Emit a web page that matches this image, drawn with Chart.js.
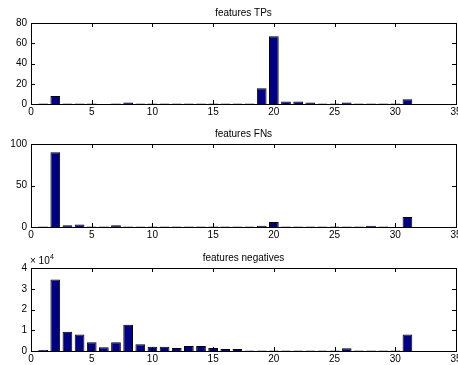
<!DOCTYPE html>
<html>
<head>
<meta charset="utf-8">
<script src="https://cdn.jsdelivr.net/npm/chart.js@4/dist/chart.umd.min.js"></script>
<style>
  html, body { margin: 0; padding: 0; background: #fff; }
  #fig { position: relative; width: 458px; height: 365px; overflow: hidden; }
  .ax { position: absolute; left: 0; width: 458px; }
</style>
</head>
<body>
<div id="fig">
  <div class="ax" style="top:0px;height:120px"><canvas id="c1"></canvas></div>
  <div class="ax" style="top:121px;height:122px"><canvas id="c2"></canvas></div>
  <div class="ax" style="top:245px;height:122px"><canvas id="c3"></canvas></div>
</div>
<script>
const features = Array.from({ length: 31 }, (_, i) => i + 1);

const tps = [0.5, 8, 0.5, 0.5, 0.5, 0, 0.5, 1.5, 0.5, 0.5, 0.5, 0.5, 0.5, 0.5, 0.5, 0.5,
    0.5, 0.5, 15.5, 67, 2.5, 2.5, 1.5, 0.5, 0.5, 1.5, 0.5, 0.5, 0.5, 0.5, 4.8];

const fns = [0.5, 90, 2, 3, 0.5, 0.5, 2, 0.5, 0.5, 0.5, 0.5, 0.5, 0.5, 0.5, 0.5, 0.5,
    0.5, 0.5, 1.5, 6, 0.5, 0.5, 0.5, 0.5, 0.5, 0.5, 0.5, 1.5, 0.5, 0, 12];

const negatives = [500, 34500, 9300, 8000, 4200, 1800, 4200, 12600, 3300, 2000, 2000, 1500,
    2400, 2400, 1500, 1000, 1000, 300, 300, 300, 300, 300, 300, 300, 300, 1300, 300, 300, 300, 300, 8000];

const xTicks = [0, 5, 10, 15, 20, 25, 30, 35];

const FONT = { family: 'Liberation Sans, Arial, sans-serif', size: 10 };

// moldura estilo matlab, ticks para dentro nos quatro lados
const framePlugin = {
    id: 'frame',
    afterDraw(chart, args, opts) {
        const { ctx, chartArea: a, scales } = chart;
        ctx.save();
        ctx.strokeStyle = '#000';
        ctx.lineWidth = 1;
        ctx.strokeRect(Math.round(a.left) + 0.5, Math.round(a.top) + 0.5,
            Math.round(a.right - a.left), Math.round(a.bottom - a.top));
        ctx.beginPath();
        scales.x.ticks.forEach((t) => {
            const px = Math.round(scales.x.getPixelForValue(t.value)) + 0.5;
            ctx.moveTo(px, a.top); ctx.lineTo(px, a.top + 4);
            ctx.moveTo(px, a.bottom); ctx.lineTo(px, a.bottom - 4);
        });
        scales.y.ticks.forEach((t) => {
            const py = Math.round(scales.y.getPixelForValue(t.value)) + 0.5;
            ctx.moveTo(a.left, py); ctx.lineTo(a.left + 4, py);
            ctx.moveTo(a.right, py); ctx.lineTo(a.right - 4, py);
        });
        ctx.stroke();

        ctx.fillStyle = '#000';
        ctx.font = '10px ' + FONT.family;
        ctx.textAlign = 'center';
        ctx.textBaseline = 'bottom';
        ctx.fillText(opts.text, (a.left + a.right) / 2, a.top - 5);
        if (opts.exponent) {
            ctx.textAlign = 'left';
            ctx.font = '10px ' + FONT.family;
            ctx.fillText('\u00d7 10', a.left - 1, a.top - 2);
            ctx.font = '7px ' + FONT.family;
            ctx.fillText(opts.exponent, a.left + 19, a.top - 7);
        }
        ctx.restore();
    },
};

function criarGrafico(id, valores, titulo, yMax, yStep, divisor, expoente) {
    return new Chart(document.getElementById(id), {
        type: 'bar',
        data: {
            datasets: [{
                data: features.map((f, i) => ({ x: f, y: valores[i] })),
                backgroundColor: '#000080',
                borderColor: '#000',
                borderWidth: 1,
                barPercentage: 0.8,
                categoryPercentage: 1,
            }],
        },
        options: {
            responsive: true,
            maintainAspectRatio: false,
            animation: false,
            layout: { padding: { top: 23, right: 2, left: 0, bottom: 0 } },
            plugins: {
                legend: { display: false },
                tooltip: { enabled: false },
                frame: { text: titulo, exponent: expoente },
            },
            scales: {
                x: {
                    type: 'linear',
                    min: 0,
                    max: 35,
                    offset: false,
                    grid: { display: false, drawTicks: false },
                    border: { display: false },
                    afterBuildTicks: (s) => { s.ticks = xTicks.map((v) => ({ value: v })); },
                    ticks: { color: '#000', font: FONT, padding: 2, maxRotation: 0, autoSkip: false },
                    afterFit: (s) => { s.height = 16; s.paddingLeft = 0; s.paddingRight = 0; },
                },
                y: {
                    min: 0,
                    max: yMax,
                    grid: { display: false, drawTicks: false },
                    border: { display: false },
                    ticks: {
                        color: '#000', font: FONT, padding: 4, stepSize: yStep,
                        callback: (v) => v / divisor,
                    },
                    afterFit: (s) => { s.width = 31; s.paddingTop = 0; s.paddingBottom = 0; },
                },
            },
        },
        plugins: [framePlugin],
    });
}

criarGrafico('c1', tps, 'features TPs', 80, 20, 1);
criarGrafico('c2', fns, 'features FNs', 100, 50, 1);
criarGrafico('c3', negatives, 'features negatives', 40000, 10000, 10000, '4');
</script>
</body>
</html>
